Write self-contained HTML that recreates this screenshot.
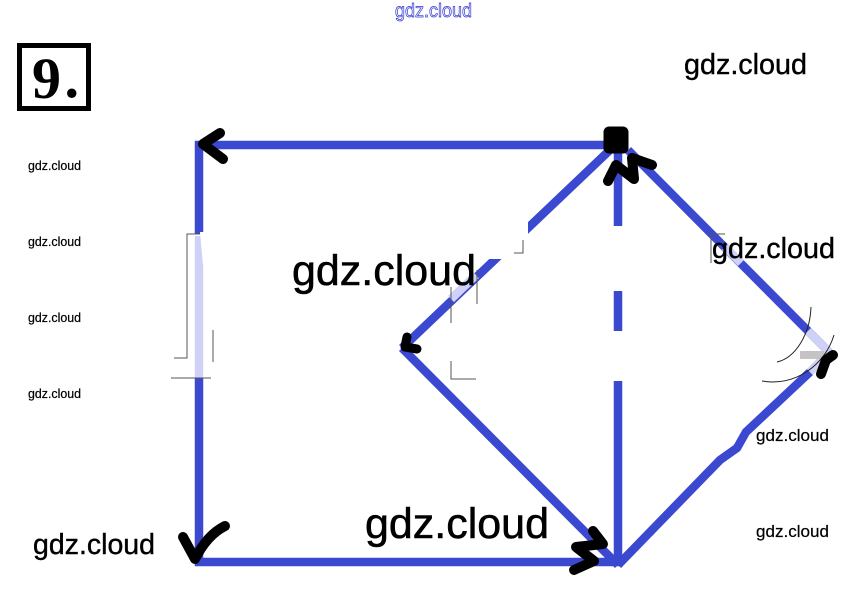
<!DOCTYPE html>
<html><head><meta charset="utf-8"><style>
html,body{margin:0;padding:0;background:#fff;width:867px;height:590px;overflow:hidden}
svg{display:block}
text{font-family:"Liberation Sans",sans-serif;fill:#000}
.b{stroke:#000;stroke-width:.55}
.m{stroke:#000;stroke-width:.4}
.s{stroke:#000;stroke-width:.2}
</style></head><body>
<svg width="867" height="590" viewBox="0 0 867 590" xmlns="http://www.w3.org/2000/svg">
<rect width="867" height="590" fill="#fff"/>
<g fill="none" stroke="#3b48d0" stroke-width="8.5" stroke-linecap="butt">
<path d="M199 234V145H612"/>
<path d="M199 378V562H620"/>
<path d="M618 150V226"/>
<path d="M618 291V331"/>
<path d="M618 381V565"/>
<path d="M402 348L612 148"/>
<path d="M402 348L618 565"/>
<path d="M628 150L829 352"/>
<path d="M618 565L720 460L737 448L746 432L810 372"/>
</g>
<rect x="480" y="218" width="48" height="41" fill="#fff"/>
<g fill="none" stroke="#cfd2f6" stroke-width="8.5">
<path d="M199 236V378"/>
<path d="M451 299L476 275"/>
<path d="M725 247L741 263"/>
<path d="M808 331L829 352L810 372"/>
</g>
<path d="M200 232L212 232L212 265L203 265Z" fill="#fff"/>
<path d="M800 355H824" stroke="#c4c4c4" stroke-width="8"/>
<g fill="none" stroke="#555" stroke-width="1">
<path d="M200 234H187V358H174"/>
<path d="M171 378H211"/>
<path d="M213 330V362"/>
<path d="M451 287V323"/>
<path d="M477 270V304"/>
<path d="M451 361V379H476"/>
<path d="M514 253H523V240"/>
<path d="M725 234H711V263"/>
<path d="M811 307C810 335 795 358 777 362" stroke="#222"/>
<path d="M834 335C825 365 795 387 762 381" stroke="#222"/>
</g>
<g fill="none" stroke="#000" stroke-linecap="round" stroke-linejoin="round">
<path d="M220 133L203 144L223 159" stroke-width="10"/>
<path d="M609 132H623V148H609Z" fill="#000" stroke-width="11"/>
<path d="M608 181L616 165L634 179L632 158L652 165" stroke-width="10"/>
<path d="M407 337L405 347L417 349" stroke-width="9"/>
<path d="M833 355L826 360L821 374" stroke-width="10"/>
<path d="M183 537L195 559C202 545 211 533 225 526" stroke-width="10"/>
<path d="M593 531L603 544L576 547L594 561L574 570" stroke-width="10"/>
</g>
<rect x="19.5" y="45.5" width="69" height="63" fill="none" stroke="#000" stroke-width="5"/>
<text x="32" y="98" style="font-family:'Liberation Serif',serif;font-weight:bold" font-size="58">9</text>
<text x="64.5" y="97" style="font-family:'Liberation Serif',serif;font-weight:bold" font-size="58">.</text>
<text x="395" y="17" font-size="19" textLength="77" lengthAdjust="spacingAndGlyphs" style="fill:#fff;stroke:#2a2fd0;stroke-width:.7">gdz.cloud</text>
<text class="m" x="684" y="74" font-size="28.5" textLength="123" lengthAdjust="spacingAndGlyphs">gdz.cloud</text>
<text class="m" x="712" y="258" font-size="28.5" textLength="123" lengthAdjust="spacingAndGlyphs">gdz.cloud</text>
<text class="b" x="292" y="285" font-size="43" textLength="184" lengthAdjust="spacingAndGlyphs">gdz.cloud</text>
<text class="b" x="365" y="538" font-size="43" textLength="184" lengthAdjust="spacingAndGlyphs">gdz.cloud</text>
<text class="m" x="33" y="554" font-size="28.5" textLength="122" lengthAdjust="spacingAndGlyphs">gdz.cloud</text>
<text class="s" x="28" y="170" font-size="12.5" textLength="53" lengthAdjust="spacingAndGlyphs">gdz.cloud</text>
<text class="s" x="28" y="246" font-size="12.5" textLength="53" lengthAdjust="spacingAndGlyphs">gdz.cloud</text>
<text class="s" x="28" y="322" font-size="12.5" textLength="53" lengthAdjust="spacingAndGlyphs">gdz.cloud</text>
<text class="s" x="28" y="398" font-size="12.5" textLength="53" lengthAdjust="spacingAndGlyphs">gdz.cloud</text>
<text class="s" x="756" y="441" font-size="17" textLength="73" lengthAdjust="spacingAndGlyphs">gdz.cloud</text>
<text class="s" x="756" y="537" font-size="17" textLength="73" lengthAdjust="spacingAndGlyphs">gdz.cloud</text>
</svg>
</body></html>
